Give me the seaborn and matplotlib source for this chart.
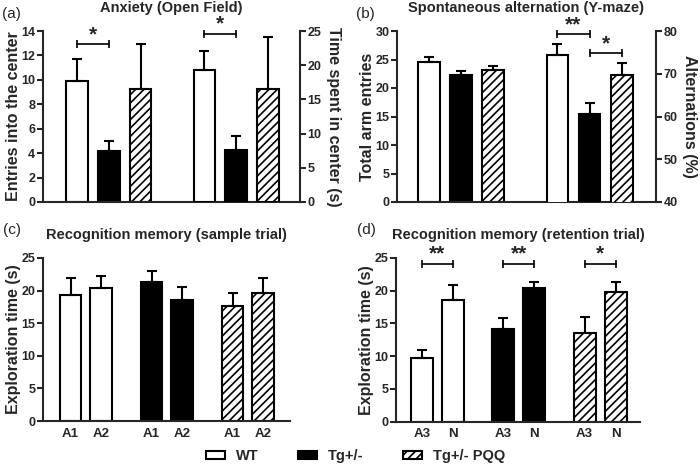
import pandas as pd
import matplotlib
matplotlib.use("Agg")
import matplotlib.pyplot as plt
import seaborn as sns
from matplotlib.patches import Patch

# group names and colours
groups = ["WT", "Tg+/-", "Tg+/- PQQ"]
group_fill = ["white", "black", "white"]
group_hatch = ["", "", "////"]

# (a) open field: entries (left axis) and time in center (right axis)
entries_mean = [9.9, 4.15, 9.22]
entries_err = [1.84, 0.87, 3.72]
time_mean = [19.25, 7.55, 16.47]
time_err = [2.78, 2.05, 7.65]

# (b) Y-maze: arm entries (left axis) and alternations % (right axis)
arm_mean = [24.5, 22.2, 23.1]
arm_err = [0.9, 0.8, 0.8]
alt_mean = [74.4, 60.5, 69.8]
alt_err = [2.5, 2.6, 2.6]

# (c) sample trial, objects A1 / A2
sample_objects = ["A1", "A2"]
sample_a1 = [19.3, 21.3, 17.7]
sample_a1_err = [2.6, 1.65, 2.0]
sample_a2 = [20.4, 18.5, 19.6]
sample_a2_err = [1.9, 2.0, 2.3]

# (d) retention trial, familiar A3 / novel N
retention_objects = ["A3", "N"]
retention_a3 = [9.74, 14.1, 13.5]
retention_a3_err = [1.13, 1.7, 2.5]
retention_n = [18.6, 20.4, 19.8]
retention_n_err = [2.3, 0.9, 1.5]

sns.set_style("ticks")
plt.rcParams["font.family"] = ["Liberation Sans", "DejaVu Sans"]
plt.rcParams["font.weight"] = "bold"
plt.rcParams["hatch.linewidth"] = 1.2
plt.rcParams["axes.linewidth"] = 1.5

W, H = 700, 471
fig = plt.figure(figsize=(7, 4.71), dpi=100)


def px_axes(left, right, top, bottom):
    return fig.add_axes([left / W, 1 - bottom / H, (right - left) / W, (bottom - top) / H])


def style_bars(ax, errs, fills, hatches):
    bars = sorted(ax.patches, key=lambda p: p.get_x())
    for p, e, fc, ht in zip(bars, errs, fills, hatches):
        p.set_facecolor(fc)
        p.set_edgecolor("black")
        p.set_linewidth(1.5)
        p.set_hatch(ht)
        xc = p.get_x() + p.get_width() / 2
        ax.errorbar(xc, p.get_height(), yerr=[[0], [e]], fmt="none", ecolor="black",
                    elinewidth=1.5, capsize=3.5, capthick=1.5, zorder=1)
    return [p.get_x() + p.get_width() / 2 for p in bars]


def bracket(ax, x1, x2, y, text):
    ax.plot([x1, x2], [y, y], color="black", lw=1.2, marker="|", markersize=6,
            markeredgewidth=1.2, clip_on=False)
    ax.annotate(text, (0.5 * (x1 + x2), y), xytext=(0, 0), textcoords="offset points",
                ha="center", va="bottom", fontsize=15, fontweight="bold", annotation_clip=False)


def tick_style(ax):
    ax.tick_params(axis="y", which="both", direction="out", length=4, width=1.5,
                   labelsize=9, pad=1.5)
    ax.tick_params(axis="x", length=0, labelsize=9.5, pad=5)
    for lab in ax.get_yticklabels() + ax.get_xticklabels():
        lab.set_fontweight("bold")


slots = ["WT1", "Tg1", "PQQ1", "gap", "WT2", "Tg2", "PQQ2"]


def dual_panel(left, right, top, bottom, lmean, lerr, rmean, rerr, llim, rlim, lticks, rticks,
               xlim, ylab, rlab, title, tag):
    ax = px_axes(left, right, top, bottom)
    dl = pd.DataFrame({"slot": slots[:3], "group": groups, "value": lmean})
    dr = pd.DataFrame({"slot": slots[4:], "group": groups, "value": rmean})
    pal = dict(zip(groups, group_fill))
    sns.barplot(data=dl, x="slot", y="value", hue="group", order=slots, hue_order=groups,
                palette=pal, width=0.68, legend=False, ax=ax)
    ax2 = ax.twinx()
    sns.barplot(data=dr, x="slot", y="value", hue="group", order=slots, hue_order=groups,
                palette=pal, width=0.68, legend=False, ax=ax2)
    lx = style_bars(ax, lerr, group_fill, group_hatch)
    rx = style_bars(ax2, rerr, group_fill, group_hatch)
    ax.set_ylim(*llim)
    ax2.set_ylim(*rlim)
    ax.set_yticks(lticks)
    ax2.set_yticks(rticks)
    ax.set_xlim(*xlim)
    ax.set_xticks([])
    ax.set_xlabel("")
    ax2.set_xlabel("")
    ax.set_ylabel(ylab, fontsize=11.5, fontweight="bold", labelpad=0.5)
    ax2.set_ylabel(rlab, fontsize=11.5, fontweight="bold", rotation=270, labelpad=14)
    for a in (ax, ax2):
        a.spines["top"].set_visible(False)
    ax.spines["right"].set_visible(False)
    ax2.spines["left"].set_visible(False)
    ax2.spines["bottom"].set_visible(False)
    tick_style(ax)
    tick_style(ax2)
    ax.set_title(title, fontsize=10.5, fontweight="bold", pad=14)
    ax.text(-0.16, 1.1, tag, transform=ax.transAxes, fontsize=11, fontweight="normal",
            ha="left", va="center")
    return ax, ax2, lx, rx


# (a)
ax, ax2, lx, rx = dual_panel(43, 300, 31, 202, entries_mean, entries_err, time_mean, time_err,
                             (0, 14), (0, 25), range(0, 15, 2), range(0, 26, 5), (-1.06, 7.0),
                             "Entries into the center", "Time spent in center (s)",
                             "Anxiety (Open Field)", "(a)")
bracket(ax, lx[0], lx[1], 12.9, "*")
bracket(ax2, rx[0], rx[1], 24.6, "*")

# (b)
ax, ax2, lx, rx = dual_panel(397, 656, 31, 202, arm_mean, arm_err, alt_mean, alt_err,
                             (0, 30), (40, 80), range(0, 31, 5), range(40, 81, 10), (-1.0, 7.07),
                             "Total arm entries", "Alternations (%)",
                             "Spontaneous alternation (Y-maze)", "(b)")
bracket(ax2, rx[0], rx[1], 79.2, "**")
bracket(ax2, rx[1], rx[2], 74.8, "*")


def pair_panel(left, right, top, bottom, objects, m1, e1, m2, e2, xlim, title, tag):
    ax = px_axes(left, right, top, bottom)
    df = pd.DataFrame({
        "group": groups * 2,
        "object": [objects[0]] * 3 + [objects[1]] * 3,
        "value": m1 + m2,
    })
    sns.barplot(data=df, x="group", y="value", hue="object", order=groups,
                hue_order=objects, width=0.76, gap=0.29, legend=False, ax=ax)
    errs, fills, hatches, labels = [], [], [], []
    for i in range(3):
        errs += [e1[i], e2[i]]
        fills += [group_fill[i]] * 2
        hatches += [group_hatch[i]] * 2
        labels += objects
    xs = style_bars(ax, errs, fills, hatches)
    ax.set_xlim(*xlim)
    ax.set_ylim(0, 25)
    ax.set_yticks(range(0, 26, 5))
    ax.set_xticks(xs)
    ax.set_xticklabels(labels)
    ax.set_xlabel("")
    ax.set_ylabel("Exploration time (s)", fontsize=11.5, fontweight="bold", labelpad=0.5)
    ax.spines["top"].set_visible(False)
    ax.spines["right"].set_visible(False)
    tick_style(ax)
    ax.set_title(title, fontsize=10.5, fontweight="bold", pad=14)
    ax.text(-0.16, 1.17, tag, transform=ax.transAxes, fontsize=11, fontweight="normal",
            ha="left", va="center")
    return ax, xs


# (c)
pair_panel(43, 290, 258, 421, sample_objects, sample_a1, sample_a1_err, sample_a2, sample_a2_err,
           (-0.53, 2.52), "Recognition memory (sample trial)", "(c)")

# (d)
ax, xs = pair_panel(396, 640, 258, 421.5, retention_objects, retention_a3, retention_a3_err,
                    retention_n, retention_n_err, (-0.51, 2.49),
                    "Recognition memory (retention trial)", "(d)")
for i, star in enumerate(["**", "**", "*"]):
    bracket(ax, xs[2 * i], xs[2 * i + 1], 24.1, star)

handles = [Patch(facecolor=f, edgecolor="black", linewidth=1.5, hatch=h)
           for f, h in zip(group_fill, group_hatch)]
leg = fig.legend(handles, groups, loc="center", bbox_to_anchor=(0.508, 0.031), ncol=3,
                 frameon=False, prop={"size": 10.5, "weight": "bold"},
                 handlelength=1.3, handleheight=0.5, handletextpad=0.75, columnspacing=2.7)

fig.savefig("out.png", dpi=100)
